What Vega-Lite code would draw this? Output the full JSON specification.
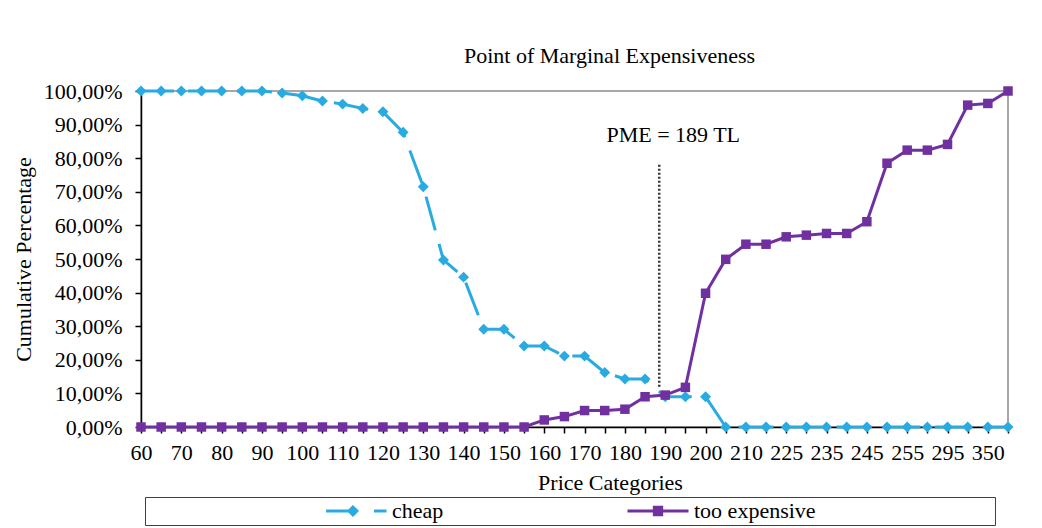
{
  "$schema": "https://vega.github.io/schema/vega-lite/v6.json",
  "width": 867,
  "height": 336,
  "autosize": {"type": "none"},
  "padding": {"left": 141, "top": 91, "right": 34, "bottom": 101},
  "background": "white",
  "title": {"text": "Point of Marginal Expensiveness", "font": "Liberation Serif", "fontSize": 22, "fontWeight": "normal", "color": "black", "dx": 35, "offset": 12},
  "config": {
    "font": "Liberation Serif",
    "view": {"stroke": "#8c8c8c", "strokeWidth": 1.5},
    "legend": {"labelFont": "Liberation Serif", "titleFont": "Liberation Serif"},
    "text": {"font": "Liberation Serif"},
    "axis": {"labelFont": "Liberation Serif", "titleFont": "Liberation Serif", "labelFontSize": 22, "titleFontSize": 22, "labelColor": "black", "titleColor": "black", "titleFontWeight": "normal", "domainColor": "black", "tickColor": "black", "grid": false, "domainWidth": 1.5, "tickWidth": 1.5, "labelOverlap": false}
  },
  "datasets": {
    "prices": [
      {"price":60,"series":"cheap","value":100},{"price":65,"series":"cheap","value":100},{"price":70,"series":"cheap","value":100},{"price":75,"series":"cheap","value":100},{"price":80,"series":"cheap","value":100},{"price":85,"series":"cheap","value":100},{"price":90,"series":"cheap","value":100},{"price":95,"series":"cheap","value":99.4},{"price":100,"series":"cheap","value":98.6},{"price":105,"series":"cheap","value":97.0},{"price":110,"series":"cheap","value":96.1},{"price":115,"series":"cheap","value":94.8},{"price":120,"series":"cheap","value":93.8},{"price":125,"series":"cheap","value":87.7},{"price":130,"series":"cheap","value":71.5},{"price":135,"series":"cheap","value":49.7},{"price":140,"series":"cheap","value":44.6},{"price":145,"series":"cheap","value":29.1},{"price":150,"series":"cheap","value":29.1},{"price":155,"series":"cheap","value":24.1},{"price":160,"series":"cheap","value":24.1},{"price":165,"series":"cheap","value":21.1},{"price":170,"series":"cheap","value":21.1},{"price":175,"series":"cheap","value":16.2},{"price":180,"series":"cheap","value":14.3},{"price":185,"series":"cheap","value":14.3},{"price":190,"series":"cheap","value":9.0},{"price":195,"series":"cheap","value":9.0},{"price":200,"series":"cheap","value":9.0},{"price":205,"series":"cheap","value":0},{"price":210,"series":"cheap","value":0},{"price":220,"series":"cheap","value":0},{"price":225,"series":"cheap","value":0},{"price":230,"series":"cheap","value":0},{"price":235,"series":"cheap","value":0},{"price":240,"series":"cheap","value":0},{"price":245,"series":"cheap","value":0},{"price":250,"series":"cheap","value":0},{"price":255,"series":"cheap","value":0},{"price":275,"series":"cheap","value":0},{"price":295,"series":"cheap","value":0},{"price":300,"series":"cheap","value":0},{"price":350,"series":"cheap","value":0},{"price":400,"series":"cheap","value":0},
      {"price":60,"series":"too expensive","value":0},{"price":65,"series":"too expensive","value":0},{"price":70,"series":"too expensive","value":0},{"price":75,"series":"too expensive","value":0},{"price":80,"series":"too expensive","value":0},{"price":85,"series":"too expensive","value":0},{"price":90,"series":"too expensive","value":0},{"price":95,"series":"too expensive","value":0},{"price":100,"series":"too expensive","value":0},{"price":105,"series":"too expensive","value":0},{"price":110,"series":"too expensive","value":0},{"price":115,"series":"too expensive","value":0},{"price":120,"series":"too expensive","value":0},{"price":125,"series":"too expensive","value":0},{"price":130,"series":"too expensive","value":0},{"price":135,"series":"too expensive","value":0},{"price":140,"series":"too expensive","value":0},{"price":145,"series":"too expensive","value":0},{"price":150,"series":"too expensive","value":0},{"price":155,"series":"too expensive","value":0},{"price":160,"series":"too expensive","value":2.1},{"price":165,"series":"too expensive","value":3.1},{"price":170,"series":"too expensive","value":4.9},{"price":175,"series":"too expensive","value":4.9},{"price":180,"series":"too expensive","value":5.3},{"price":185,"series":"too expensive","value":9.0},{"price":190,"series":"too expensive","value":9.5},{"price":195,"series":"too expensive","value":11.8},{"price":200,"series":"too expensive","value":39.8},{"price":205,"series":"too expensive","value":49.9},{"price":210,"series":"too expensive","value":54.4},{"price":220,"series":"too expensive","value":54.4},{"price":225,"series":"too expensive","value":56.6},{"price":230,"series":"too expensive","value":57.1},{"price":235,"series":"too expensive","value":57.6},{"price":240,"series":"too expensive","value":57.6},{"price":245,"series":"too expensive","value":61.1},{"price":250,"series":"too expensive","value":78.5},{"price":255,"series":"too expensive","value":82.4},{"price":275,"series":"too expensive","value":82.4},{"price":295,"series":"too expensive","value":84.1},{"price":300,"series":"too expensive","value":95.8},{"price":350,"series":"too expensive","value":96.3},{"price":400,"series":"too expensive","value":100}
    ]
  },
  "encoding": {
    "x": {
      "field": "price", "type": "ordinal",
      "scale": {"type": "point", "padding": 0, "domain": [60,65,70,75,80,85,90,95,100,105,110,115,120,125,130,135,140,145,150,155,160,165,170,175,180,185,190,195,200,205,210,220,225,230,235,240,245,250,255,275,295,300,350,400]},
      "title": "Price Categories",
      "axis": {"labelAngle": 0, "labelOverlap": false, "labelFlush": false, "tickSize": 6, "labelPadding": 9, "titlePadding": 9, "titleX": 469,
        "labelExpr": "indexof(['60','70','80','90','100','110','120','130','140','150','160','170','180','190','200','210','225','235','245','255','295','350'], datum.label) >= 0 ? datum.label : ''"}
    },
    "y": {"field": "value", "type": "quantitative", "scale": {"domain": [0, 100], "nice": false}, "title": "Cumulative Percentage",
      "axis": {"values": [0,10,20,30,40,50,60,70,80,90,100], "tickCount": 11, "tickSize": 6, "labelPadding": 13, "titlePadding": 8, "labelOverlap": false, "labelSeparation": 0,
        "labelExpr": "replace(format(datum.value, '.2f'), '.', ',') + '%'"}}
  },
  "layer": [
    {
      "data": {"name": "prices"},
      "transform": [{"filter": "datum.series === 'cheap'"}],
      "mark": {"type": "line", "strokeWidth": 3, "strokeDash": [35, 14], "strokeDashOffset": 2},
      "encoding": {
        "color": {"field": "series", "type": "nominal", "scale": {"domain": ["cheap", "too expensive"], "range": ["#29ABE2", "#7030A0"]},
          "legend": {
            "orient": "none", "legendX": 4, "legendY": 406, "direction": "horizontal", "title": null,
            "symbolOffset": 176, "symbolSize": 3721, "symbolStrokeWidth": 3, "clipHeight": 22,
            "labelFont": "Liberation Serif", "labelFontSize": 22, "labelColor": "black", "labelOffset": 4, "labelLimit": 400,
            "labelExpr": "datum.value === 'too expensive' ? datum.label + '\u00a0\u00a0\u00a0\u00a0\u00a0\u00a0\u00a0\u00a0\u00a0\u00a0\u00a0\u00a0\u00a0\u00a0\u00a0\u00a0\u00a0\u00a0\u00a0\u00a0\u00a0\u00a0\u00a0\u00a0\u00a0\u00a0\u00a0\u00a0\u00a0\u00a0\u00a0\u00a0\u200b' : datum.label",
            "columnPadding": 6, "padding": 3, "strokeColor": "#404040",
            "encode": {"symbols": {"update": {
              "shape": {"signal": "datum.value === 'cheap' ? 'M-0.98,0H-0.1M-0.1,-0.13L0.03,0L-0.1,0.13L-0.23,0ZM0.59,0H1' : 'M-1,0H1M-0.12,-0.12H0.12V0.12H-0.12Z'"},
              "fill": {"signal": "datum.value === 'cheap' ? '#29ABE2' : '#7030A0'"},
              "stroke": {"signal": "datum.value === 'cheap' ? '#29ABE2' : '#7030A0'"},
              "strokeDash": {"value": [1, 0]},
              "opacity": {"value": 1}
            }}}
          }}
      }
    },
    {
      "data": {"name": "prices"},
      "transform": [{"filter": "datum.series === 'cheap'"}],
      "mark": {"type": "point", "shape": "diamond", "filled": true, "size": 120, "opacity": 1},
      "encoding": {
        "color": {"field": "series", "type": "nominal"}
      }
    },
    {
      "data": {"name": "prices"},
      "transform": [{"filter": "datum.series === 'too expensive'"}],
      "mark": {"type": "line", "strokeWidth": 3},
      "encoding": {
        "color": {"field": "series", "type": "nominal"}
      }
    },
    {
      "data": {"name": "prices"},
      "transform": [{"filter": "datum.series === 'too expensive'"}],
      "mark": {"type": "point", "shape": "square", "filled": true, "size": 90, "opacity": 1},
      "encoding": {
        "color": {"field": "series", "type": "nominal"}
      }
    },
    {
      "data": {"values": [{"price": 190, "value": 12, "value2": 78.5}]},
      "mark": {"type": "rule", "strokeDash": [2, 2], "strokeWidth": 2.5, "color": "#333333", "xOffset": -6},
      "encoding": {
        "y2": {"field": "value2"}
      }
    },
    {
      "data": {"values": [{"price": 190, "value": 87, "label": "PME = 189 TL"}]},
      "mark": {"type": "text", "font": "Liberation Serif", "fontSize": 22, "color": "black", "xOffset": 8},
      "encoding": {
        "text": {"field": "label"}
      }
    }
  ]
}
